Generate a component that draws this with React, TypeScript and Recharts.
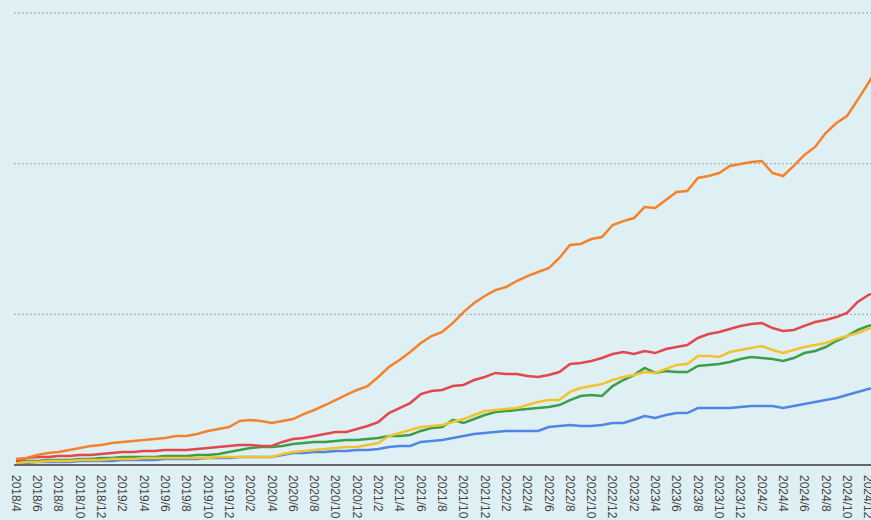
import { CartesianGrid, Line, LineChart, XAxis, YAxis } from "recharts"

const months = [
  "2018/4", "2018/5", "2018/6", "2018/7", "2018/8", "2018/9", "2018/10", "2018/11", "2018/12",
  "2019/1", "2019/2", "2019/3", "2019/4", "2019/5", "2019/6", "2019/7", "2019/8", "2019/9", "2019/10", "2019/11", "2019/12",
  "2020/1", "2020/2", "2020/3", "2020/4", "2020/5", "2020/6", "2020/7", "2020/8", "2020/9", "2020/10", "2020/11", "2020/12",
  "2021/1", "2021/2", "2021/3", "2021/4", "2021/5", "2021/6", "2021/7", "2021/8", "2021/9", "2021/10", "2021/11", "2021/12",
  "2022/1", "2022/2", "2022/3", "2022/4", "2022/5", "2022/6", "2022/7", "2022/8", "2022/9", "2022/10", "2022/11", "2022/12",
  "2023/1", "2023/2", "2023/3", "2023/4", "2023/5", "2023/6", "2023/7", "2023/8", "2023/9", "2023/10", "2023/11", "2023/12",
  "2024/1", "2024/2", "2024/3", "2024/4", "2024/5", "2024/6", "2024/7", "2024/8", "2024/9", "2024/10", "2024/11", "2024/12",
  "2025/1",
]

const orange = [
  0.4, 0.46, 0.66, 0.8, 0.86, 1.0, 1.13, 1.26, 1.33,
  1.46, 1.53, 1.59, 1.66, 1.73, 1.79, 1.92, 1.92, 2.06, 2.26, 2.39, 2.52,
  2.92, 2.99, 2.92, 2.79, 2.92, 3.05, 3.38, 3.65, 3.98, 4.31, 4.65, 4.98,
  5.24, 5.84, 6.5, 6.97, 7.5, 8.1, 8.56, 8.83, 9.42, 10.15, 10.75, 11.22,
  11.61, 11.81, 12.21, 12.54, 12.81, 13.07, 13.74, 14.6, 14.67, 15.0, 15.13, 15.93,
  16.19, 16.39, 17.12, 17.06, 17.59, 18.12, 18.19, 19.05, 19.18, 19.38, 19.85, 19.98,
  20.11, 20.18, 19.38, 19.18, 19.85, 20.58, 21.11, 22.03, 22.7, 23.16, 24.23, 25.35,
  26.5,
]

const red = [
  0.27, 0.46, 0.53, 0.53, 0.6, 0.6, 0.66, 0.66, 0.73,
  0.8, 0.86, 0.86, 0.93, 0.93, 1.0, 1.0, 1.0, 1.06, 1.13, 1.19, 1.26,
  1.33, 1.33, 1.26, 1.26, 1.53, 1.73, 1.79, 1.92, 2.06, 2.19, 2.19, 2.39,
  2.59, 2.85, 3.45, 3.78, 4.11, 4.71, 4.91, 4.98, 5.24, 5.31, 5.64, 5.84,
  6.11, 6.04, 6.04, 5.91, 5.84, 5.97, 6.17, 6.7, 6.77, 6.9, 7.1, 7.37,
  7.5, 7.37, 7.57, 7.43, 7.7, 7.83, 7.96, 8.43, 8.69, 8.83, 9.03, 9.23,
  9.36, 9.42, 9.09, 8.89, 8.96, 9.23, 9.49, 9.62, 9.82, 10.09, 10.82, 11.28,
  11.55,
]

const green = [
  0.2, 0.27, 0.27, 0.33, 0.33, 0.33, 0.4, 0.4, 0.46,
  0.46, 0.53, 0.53, 0.53, 0.53, 0.6, 0.6, 0.6, 0.66, 0.66, 0.73, 0.86,
  1.0, 1.13, 1.19, 1.19, 1.26, 1.39, 1.46, 1.53, 1.53, 1.59, 1.66, 1.66,
  1.73, 1.79, 1.92, 1.92, 1.99, 2.26, 2.46, 2.52, 2.99, 2.79, 3.05, 3.32,
  3.52, 3.58, 3.65, 3.72, 3.78, 3.85, 3.98, 4.31, 4.58, 4.65, 4.58, 5.24,
  5.64, 5.97, 6.44, 6.11, 6.24, 6.17, 6.17, 6.57, 6.64, 6.7, 6.84, 7.04,
  7.17, 7.1, 7.04, 6.9, 7.1, 7.43, 7.57, 7.83, 8.23, 8.56, 8.96, 9.23,
  9.42,
]

const yellow = [
  0.13, 0.2, 0.2, 0.27, 0.27, 0.27, 0.33, 0.33, 0.33,
  0.4, 0.4, 0.4, 0.46, 0.46, 0.46, 0.46, 0.46, 0.46, 0.46, 0.53, 0.53,
  0.53, 0.53, 0.53, 0.53, 0.73, 0.86, 0.93, 1.0, 1.06, 1.13, 1.19, 1.19,
  1.33, 1.46, 1.92, 2.12, 2.32, 2.52, 2.59, 2.66, 2.85, 3.05, 3.32, 3.58,
  3.65, 3.72, 3.78, 3.98, 4.18, 4.31, 4.31, 4.85, 5.11, 5.24, 5.37, 5.64,
  5.84, 5.97, 6.17, 6.11, 6.37, 6.64, 6.7, 7.24, 7.24, 7.17, 7.5, 7.63,
  7.77, 7.9, 7.63, 7.43, 7.63, 7.83, 7.96, 8.1, 8.36, 8.56, 8.76, 9.03,
  9.23,
]

const blue = [
  0.13, 0.13, 0.2, 0.2, 0.2, 0.2, 0.27, 0.27, 0.27,
  0.27, 0.33, 0.33, 0.33, 0.33, 0.4, 0.4, 0.4, 0.4, 0.46, 0.46, 0.46,
  0.53, 0.53, 0.53, 0.53, 0.66, 0.8, 0.8, 0.86, 0.86, 0.93, 0.93, 1.0,
  1.0, 1.06, 1.19, 1.26, 1.26, 1.53, 1.59, 1.66, 1.79, 1.92, 2.06, 2.12,
  2.19, 2.26, 2.26, 2.26, 2.26, 2.52, 2.59, 2.66, 2.59, 2.59, 2.66, 2.79,
  2.79, 3.0, 3.25, 3.12, 3.32, 3.45, 3.45, 3.78, 3.78, 3.78, 3.78, 3.85,
  3.91, 3.91, 3.91, 3.78, 3.91, 4.05, 4.18, 4.31, 4.45, 4.65, 4.85, 5.04,
  5.17,
]

const yTicks = [0, 10, 20, 30]

const data = months.map((m, i) => ({
  month: m,
  orange: orange[i],
  red: red[i],
  green: green[i],
  yellow: yellow[i],
  blue: blue[i],
}))

const MonthTick = (props: any) => {
  const { x, y, payload } = props
  return (
    <text
      x={0}
      y={0}
      dy="0.35em"
      transform={`translate(${x},${y + 2}) rotate(90)`}
      textAnchor="start"
      fontSize={12}
      fontFamily="'Liberation Sans', Arial, sans-serif"
      fill="#444"
    >
      {payload.value}
    </text>
  )
}

export default function App() {
  return (
    <div
      style={{
        position: "fixed",
        left: 0,
        top: 0,
        width: 871,
        height: 520,
        overflow: "hidden",
        background: "#dff0f5",
      }}
    >
      <LineChart width={879} height={520} data={data} margin={{ top: 13, right: 0, bottom: 0, left: 14 }}>
        <CartesianGrid vertical={false} stroke="#9aa6ad" strokeDasharray="2 2" />
        <XAxis
          dataKey="month"
          interval={1}
          tick={<MonthTick />}
          tickLine={false}
          axisLine={{ stroke: "#666", strokeWidth: 2 }}
          height={55}
          padding={{ left: 2, right: 0 }}
        />
        <YAxis hide domain={[0, 30]} ticks={yTicks} />
        <Line type="linear" dataKey="blue" stroke="#4f86e6" strokeWidth={2.5} dot={false} isAnimationActive={false} />
        <Line type="linear" dataKey="green" stroke="#3a9f48" strokeWidth={2.5} dot={false} isAnimationActive={false} />
        <Line type="linear" dataKey="yellow" stroke="#f2c330" strokeWidth={2.5} dot={false} isAnimationActive={false} />
        <Line type="linear" dataKey="red" stroke="#e2474d" strokeWidth={2.5} dot={false} isAnimationActive={false} />
        <Line type="linear" dataKey="orange" stroke="#f5822a" strokeWidth={2.5} dot={false} isAnimationActive={false} />
      </LineChart>
    </div>
  )
}
